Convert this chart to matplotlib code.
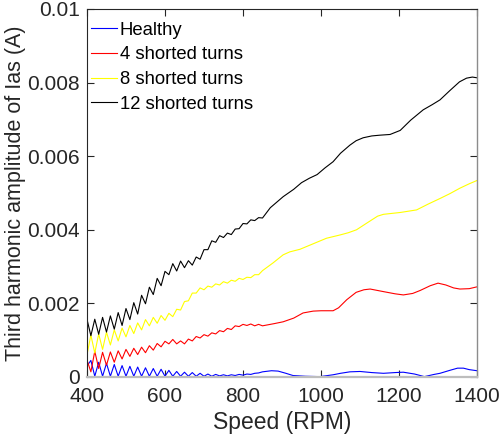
import matplotlib
matplotlib.use("Agg")
import matplotlib.pyplot as plt

plt.rcParams['font.family'] = ['Liberation Sans', 'DejaVu Sans']

# Low-speed region: readings every 10 RPM (alternating ripple extremes)
speed_low = list(range(400, 860, 10))

healthy_low = [0.0003, 0.00045, 0.00002, 0.0004, 0.00002, 0.00037, 0.00002, 0.00034,
               0.00002, 0.00031, 0.00002, 0.00029, 0.00002, 0.00027, 0.00002, 0.00025,
               0.00002, 0.00023, 0.00002, 0.00021, 0.00002, 0.00018, 0.00002, 0.00015,
               0.00002, 0.00013, 0.00002, 0.00012, 0.00002, 0.0001, 0.00002, 0.00008,
               0.00002, 0.00007, 0.00003, 0.00006, 0.00003, 0.00006, 0.00004, 0.00007,
               0.00005, 0.00008, 0.00007, 0.0001, 0.00011, 0.00014]
turns4_low = [0.00046, 0.00014, 0.0007, 0.00023, 0.00067, 0.00032, 0.00068, 0.0004,
              0.00071, 0.00049, 0.00075, 0.00056, 0.00078, 0.00061, 0.00081, 0.00066,
              0.00085, 0.00073, 0.00091, 0.00082, 0.00097, 0.0009, 0.00102, 0.0009,
              0.00098, 0.0009, 0.00103, 0.00098, 0.0011, 0.00106, 0.00115, 0.00111,
              0.0012, 0.00117, 0.00126, 0.00123, 0.00132, 0.00129, 0.00139, 0.00137,
              0.00143, 0.0014, 0.00144, 0.00139, 0.00143, 0.00139]
turns8_low = [0.0006, 0.00114, 0.00065, 0.00117, 0.00075, 0.00122, 0.00087, 0.00128,
              0.00098, 0.00133, 0.00109, 0.0014, 0.00118, 0.00147, 0.00128, 0.00156,
              0.00139, 0.00162, 0.00146, 0.00167, 0.00154, 0.00173, 0.00164, 0.00184,
              0.00182, 0.00205, 0.00207, 0.00228, 0.00228, 0.00242, 0.00237, 0.00247,
              0.00244, 0.00253, 0.0025, 0.00259, 0.00255, 0.00263, 0.0026, 0.00268,
              0.00265, 0.00271, 0.0027, 0.00278, 0.00278, 0.00289]
turns12_low = [0.00157, 0.00112, 0.00157, 0.00116, 0.00162, 0.00122, 0.00166, 0.0013,
               0.00175, 0.0014, 0.00186, 0.00156, 0.00202, 0.00171, 0.00222, 0.00199,
               0.00244, 0.00224, 0.00268, 0.00248, 0.00287, 0.00278, 0.00308, 0.00288,
               0.00315, 0.00297, 0.00316, 0.00304, 0.00326, 0.0032, 0.00346, 0.00346,
               0.0037, 0.00366, 0.00384, 0.00379, 0.00391, 0.00387, 0.00402, 0.00403,
               0.00417, 0.00416, 0.00427, 0.00425, 0.00433, 0.00432]

# High-speed region: smooth readings
healthy_hi_speed = [873, 890, 910, 928, 960, 997, 1031, 1050, 1074, 1100, 1130, 1160,
                    1190, 1211, 1240, 1265, 1290, 1305, 1330, 1350, 1365, 1380, 1400]
healthy_hi = [0.00017, 0.00016, 0.0001, 0.00004, 0.00002, 0.00001, 0.00006, 0.0001,
              0.00014, 0.00015, 0.00012, 0.0001, 0.00012, 0.00013, 0.00008, 0.00001,
              0.00007, 0.0001, 0.00018, 0.00024, 0.00024, 0.0002, 0.00017]
turns4_hi_speed = [880, 903, 930, 954, 980, 1000, 1031, 1045, 1066, 1090, 1110, 1126,
                   1160, 1190, 1211, 1235, 1254, 1280, 1300, 1320, 1340, 1356, 1380, 1400]
turns4_hi = [0.00145, 0.0015, 0.0016, 0.00174, 0.00179, 0.0018, 0.0018, 0.00188, 0.0021,
             0.0023, 0.00237, 0.00239, 0.00232, 0.00226, 0.00223, 0.00227, 0.00235,
             0.00248, 0.00255, 0.0025, 0.00242, 0.00239, 0.0024, 0.00245]
turns8_hi_speed = [877, 903, 920, 946, 980, 1014, 1049, 1070, 1091, 1120, 1145, 1160,
                   1203, 1245, 1275, 1305, 1330, 1356, 1380, 1400]
turns8_hi = [0.0031, 0.00332, 0.0034, 0.00347, 0.00362, 0.00377, 0.00386, 0.00392, 0.004,
             0.0042, 0.00437, 0.00442, 0.00447, 0.00454, 0.0047, 0.00485, 0.00498,
             0.00513, 0.00525, 0.00534]
turns12_hi_speed = [870, 903, 930, 950, 970, 990, 1010, 1031, 1050, 1074, 1090, 1108,
                    1130, 1150, 1177, 1203, 1230, 1262, 1285, 1305, 1330, 1355, 1373,
                    1388, 1400]
turns12_hi = [0.0046, 0.0049, 0.0051, 0.00528, 0.0054, 0.0055, 0.00568, 0.00585, 0.00608,
              0.0063, 0.00642, 0.0065, 0.00655, 0.00657, 0.00659, 0.0067, 0.00698,
              0.00726, 0.0074, 0.00753, 0.00778, 0.00802, 0.00812, 0.00815, 0.00813]

labels = ['Healthy', '4 shorted turns', '8 shorted turns', '12 shorted turns']
colors = ['#0000ff', '#ff0000', '#ffff00', '#000000']

x_ticks = [400, 600, 800, 1000, 1200, 1400]
y_ticks = [0, 0.002, 0.004, 0.006, 0.008, 0.01]
y_tick_labels = ['0', '0.002', '0.004', '0.006', '0.008', '0.01']

series = [
    (speed_low + healthy_hi_speed, healthy_low + healthy_hi),
    (speed_low + turns4_hi_speed, turns4_low + turns4_hi),
    (speed_low + turns8_hi_speed, turns8_low + turns8_hi),
    (speed_low + turns12_hi_speed, turns12_low + turns12_hi),
]

fig = plt.figure(figsize=(4.99, 4.38), dpi=100)
ax = fig.add_axes([0.1743, 0.1393, 0.7817, 0.8402])

for (sx, sy), lab, col in zip(series, labels, colors):
    ax.plot(sx, sy, color=col, lw=0.8, label=lab)

ax.set_xlim(400, 1400)
ax.set_ylim(0, 0.01)
ax.set_xticks(x_ticks)
ax.set_yticks(y_ticks)
ax.set_yticklabels(y_tick_labels)

axis_col = '#262626'
ax.tick_params(direction='in', length=5, width=0.8, top=True, right=True,
               labelsize=15, colors=axis_col)
ax.tick_params(axis='y', pad=5)
ax.tick_params(axis='x', pad=7)
for side in ['left', 'top']:
    ax.spines[side].set_color(axis_col)
    ax.spines[side].set_linewidth(0.8)
ax.spines['right'].set_color('#8c8c8c')
ax.spines['right'].set_linewidth(1.0)
ax.spines['bottom'].set_color('#bdbdbd')
ax.spines['bottom'].set_linewidth(1.6)

ax.set_xlabel('Speed (RPM)', fontsize=16.5, color=axis_col, labelpad=4)
ax.set_ylabel('Third harmonic amplitude of Ias (A)', fontsize=15.5, color=axis_col,
              labelpad=1)

leg = ax.legend(loc='upper left', frameon=False, fontsize=13.3, handlelength=1.4,
                handletextpad=0.15, labelspacing=0.42, borderaxespad=0.0,
                borderpad=0.3, bbox_to_anchor=(-0.003, 0.981))

fig.savefig('out.png', dpi=100)
